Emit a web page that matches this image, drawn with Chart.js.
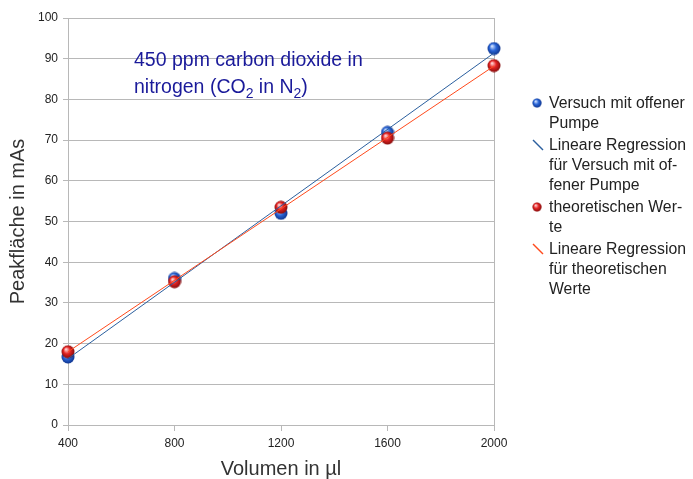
<!DOCTYPE html>
<html>
<head>
<meta charset="utf-8">
<script src="https://cdn.jsdelivr.net/npm/chart.js@4"></script>
<style>
  html, body { margin: 0; padding: 0; background: #fff; }
  #wrap { position: relative; width: 693px; height: 479px; }
  #note {
    position: absolute; left: 134px; top: 46px;
    font: 19.5px "Liberation Sans", Arial, sans-serif; line-height: 27px;
    color: #1a1a9a;
  }
  #note sub { font-size: 14px; vertical-align: -5px; line-height: 0; }
  #legend {
    position: absolute; left: 530px; top: 93px;
    font: 15.8px "Liberation Sans", Arial, sans-serif; line-height: 20px;
    color: #222;
  }
  #legend .item { position: relative; padding-left: 19px; white-space: pre-line; margin-bottom: 2px; }
  #legend canvas { position: absolute; left: 0; top: 3px; }
</style>
</head>
<body>
<div id="wrap">
  <canvas id="chart" width="693" height="479"></canvas>
  <div id="note">450 ppm carbon dioxide in<br>nitrogen (CO<sub>2</sub> in N<sub>2</sub>)</div>
  <div id="legend"></div>
</div>
<script>
const volumes = [400, 800, 1200, 1600, 2000];
const versuchWerte = [16.7, 36.0, 52.0, 71.9, 92.5];
const theorieWerte = [18.0, 35.2, 53.5, 70.5, 88.3];
const regX = [400, 2000];
const regVersuch = [16.3, 91.4];
const regTheorie = [18.0, 88.2];
const xTicks = [400, 800, 1200, 1600, 2000];
const yTicks = [0, 10, 20, 30, 40, 50, 60, 70, 80, 90, 100];

const labels = [
  'Versuch mit offener\nPumpe',
  'Lineare Regression\nfür Versuch mit of-\nfener Pumpe',
  'theoretischen Wer-\nte',
  'Lineare Regression\nfür theoretischen\nWerte'
];

function sphere(light, mid, dark) {
  const c = document.createElement('canvas');
  c.width = 14; c.height = 14;
  const g = c.getContext('2d');
  const grad = g.createRadialGradient(5, 4.5, 0.5, 7, 7, 7);
  grad.addColorStop(0, light);
  grad.addColorStop(0.45, mid);
  grad.addColorStop(1, dark);
  g.fillStyle = grad;
  g.beginPath();
  g.arc(7, 7, 6.5, 0, Math.PI * 2);
  g.fill();
  return c;
}

const blueBall = sphere('#cfe0ff', '#2a66d8', '#0b2f86');
const redBall = sphere('#ffd0d0', '#e52424', '#7a0a0a');
const blueLine = '#2b5f9e';
const redLine = '#ff4a1c';
const gridColor = '#b8b8b8';

const pts = (xs, ys) => xs.map((x, i) => ({ x: x, y: ys[i] }));

const font = { family: '"Liberation Sans", Arial, sans-serif' };

new Chart(document.getElementById('chart'), {
  type: 'scatter',
  data: {
    datasets: [
      { label: labels[3], data: pts(regX, regTheorie), showLine: true, borderColor: redLine, borderWidth: 1, pointRadius: 0 },
      { label: labels[1], data: pts(regX, regVersuch), showLine: true, borderColor: blueLine, borderWidth: 1, pointRadius: 0 },
      { label: labels[2], data: pts(volumes, theorieWerte), pointStyle: redBall, pointRadius: 7, clip: false },
      { label: labels[0], data: pts(volumes, versuchWerte), pointStyle: blueBall, pointRadius: 7, clip: false }
    ]
  },
  options: {
    responsive: false,
    animation: false,
    layout: { padding: { left: 0, right: 199, top: 18, bottom: 0 } },
    plugins: { legend: { display: false }, tooltip: { enabled: false } },
    scales: {
      x: {
        type: 'linear', min: 400, max: 2000,
        afterBuildTicks: s => { s.ticks = xTicks.map(v => ({ value: v })); },
        afterFit: s => { s.height = 54; },
        ticks: { color: '#222', font: { ...font, size: 12 }, padding: 5, callback: v => String(v) },
        grid: {
          color: c => (c.index === 0 || c.index === xTicks.length - 1) ? gridColor : 'rgba(0,0,0,0)',
          tickColor: gridColor, tickLength: 6
        },
        border: { color: gridColor },
        title: { display: true, text: 'Volumen in µl', color: '#333', font: { ...font, size: 20 }, padding: { top: 9, bottom: -2 } }
      },
      y: {
        min: 0, max: 100,
        afterBuildTicks: s => { s.ticks = yTicks.map(v => ({ value: v })); },
        afterFit: s => { s.width = 68; },
        ticks: { color: '#222', font: { ...font, size: 12 }, padding: 5 },
        grid: { color: gridColor, tickColor: gridColor, tickLength: 5 },
        border: { color: gridColor },
        title: { display: true, text: 'Peakfläche in mAs', color: '#333', font: { ...font, size: 20 }, padding: { top: 6, bottom: 0 } }
      }
    }
  }
});

// legend entries in the reference's order
const legendItems = [
  { text: labels[0], ball: blueBall },
  { text: labels[1], line: blueLine },
  { text: labels[2], ball: redBall },
  { text: labels[3], line: redLine }
];
const legend = document.getElementById('legend');
legendItems.forEach(it => {
  const item = document.createElement('div');
  item.className = 'item';
  const ic = document.createElement('canvas');
  ic.width = 14; ic.height = 14;
  const g = ic.getContext('2d');
  if (it.line) {
    g.strokeStyle = it.line; g.lineWidth = 1.4;
    g.beginPath(); g.moveTo(3, 2); g.lineTo(13, 12); g.stroke();
  } else {
    g.drawImage(it.ball, 2, 2, 10, 10);
  }
  item.appendChild(ic);
  item.appendChild(document.createTextNode(it.text));
  legend.appendChild(item);
});
</script>
</body>
</html>
